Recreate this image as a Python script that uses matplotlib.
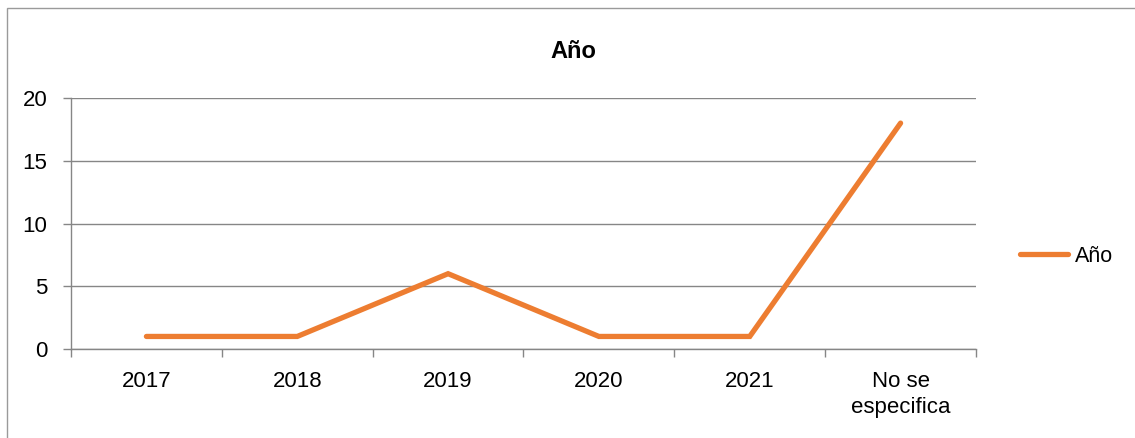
import numpy as np
import matplotlib.pyplot as plt
from matplotlib.patches import Rectangle

plt.rcParams['font.family'] = ['Liberation Sans', 'DejaVu Sans']

categories = ['2017', '2018', '2019', '2020', '2021', 'No se\nespecifica']
values = [1, 1, 6, 1, 1, 18]
series_name = 'Año'

W, H = 1135, 438
fig = plt.figure(figsize=(W/100, H/100), dpi=100)
ax = fig.add_axes([71/W, (H-349)/H, (976-71)/W, (349-98)/H])

orange = '#ED7D31'
gray = '#868686'

x = np.arange(len(categories))
ax.plot(x, values, color=orange, lw=3.8, solid_capstyle='round',
        solid_joinstyle='miter', label=series_name, zorder=3)

ax.set_xlim(-0.5, len(categories) - 0.5)
ax.set_ylim(0, 20)
ax.set_yticks([0, 5, 10, 15, 20])
ax.yaxis.grid(True, color=gray, lw=1)
ax.set_axisbelow(True)

ax.set_xticks(x)
ax.set_xticklabels(categories, fontsize=16, linespacing=1.32, va='top')
ax.set_xticks(np.arange(len(categories) + 1) - 0.5, minor=True)
ax.tick_params(axis='x', which='major', length=0, pad=15.5)
ax.tick_params(axis='x', which='minor', length=6, color=gray, width=1)
ax.tick_params(axis='y', length=6, color=gray, width=1, pad=11, labelsize=16)

for s in ['top', 'right']:
    ax.spines[s].set_visible(False)
for s in ['left', 'bottom']:
    ax.spines[s].set_color(gray)
    ax.spines[s].set_linewidth(1)

fig.text(573/W, 1 - 58/H, 'Año', ha='center', va='baseline',
         fontsize=17, fontweight='bold')

leg = ax.legend(loc='center left', bbox_to_anchor=(1.0267, 0.37), frameon=False,
                fontsize=15.5, handlelength=2.23, handletextpad=0.35)

# chart border
fig.patches.append(Rectangle((7/W, -0.05), 1.2, 1 - 8/H + 0.05,
                             transform=fig.transFigure, fill=False,
                             edgecolor='#9a9a9a', lw=1))

fig.savefig('out.png', dpi=100)
